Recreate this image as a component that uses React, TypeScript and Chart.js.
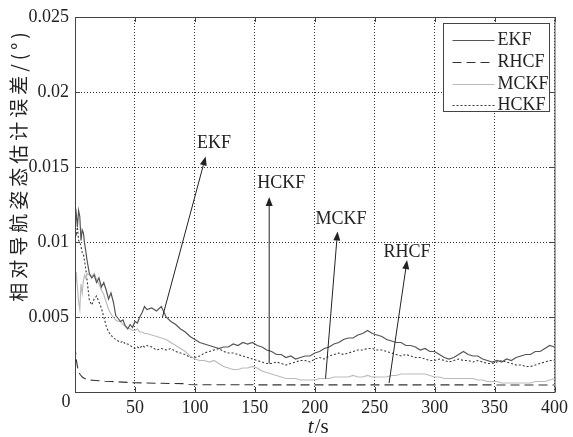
import React, { useEffect, useRef } from 'react';
import { Chart, registerables } from 'chart.js';
Chart.register(...registerables);

const SERIF = '"Liberation Serif", "Times New Roman", serif';

// time axis (s)
const timeS = [
  0, 1, 2, 3, 4, 5, 6, 7, 8, 9, 10,
  12, 14, 16, 18, 20, 22, 24, 26, 28, 30, 32, 34, 36, 38, 40, 42, 44, 46, 48, 50, 52, 54, 56, 58, 60,
  64, 68, 72, 76, 80, 84, 88, 92, 96, 100,
  104, 108, 112, 116, 120, 124, 128, 132, 136, 140,
  144, 148, 152, 156, 160, 164, 168, 172, 176, 180,
  184, 188, 192, 196, 200, 204, 208, 212, 216, 220,
  224, 228, 232, 236, 240, 244, 248, 252, 256, 260,
  264, 268, 272, 276, 280, 284, 288, 292, 296, 300,
  304, 308, 312, 316, 320, 324, 328, 332, 336, 340,
  344, 348, 352, 356, 360, 364, 368, 372, 376, 380,
  384, 388, 392, 396, 400,
];

const ekfValues = [
  0.0112, 0.0119, 0.0110, 0.0121, 0.0117, 0.0101, 0.0108, 0.0106, 0.0099, 0.0094, 0.0088,
  0.0079, 0.0076, 0.0078, 0.0073, 0.0076, 0.0070, 0.0073, 0.0068, 0.0062, 0.0066, 0.0060, 0.0051, 0.0049, 0.0047, 0.0048, 0.0044, 0.0042, 0.0045, 0.0043, 0.0047, 0.0046, 0.0050, 0.0053, 0.0057, 0.0055,
  0.0056, 0.0054, 0.0057, 0.0050, 0.0047, 0.0045, 0.0042, 0.0040, 0.0037, 0.0035,
  0.0033, 0.0032, 0.0031, 0.0030, 0.0029, 0.0030, 0.0030, 0.0032, 0.0031, 0.0033,
  0.0032, 0.0033, 0.0031, 0.0030, 0.0028, 0.0027, 0.0025, 0.0025, 0.0023, 0.0024,
  0.0022, 0.0023, 0.0024, 0.0024, 0.0026, 0.0027, 0.0029, 0.0030, 0.0032, 0.0033,
  0.0035, 0.0036, 0.0036, 0.0038, 0.0039, 0.0041, 0.0039, 0.0038, 0.0037, 0.0035,
  0.0034, 0.0033, 0.0033, 0.0031, 0.0031, 0.0030, 0.0028, 0.0029, 0.0027, 0.0027,
  0.0025, 0.0023, 0.0022, 0.0023, 0.0025, 0.0027, 0.0025, 0.0024, 0.0024, 0.0022,
  0.0021, 0.0020, 0.0021, 0.0020, 0.0022, 0.0021, 0.0023, 0.0024, 0.0025, 0.0025,
  0.0027, 0.0027, 0.0029, 0.0031, 0.0030,
];

const hckfValues = [
  0.0108, 0.0104, 0.0110, 0.0101, 0.0100, 0.0097, 0.0093, 0.0092, 0.0087, 0.0082, 0.0075,
  0.0061, 0.0058, 0.0062, 0.0064, 0.0060, 0.0056, 0.0050, 0.0044, 0.0040, 0.0038, 0.0036, 0.0035, 0.0034, 0.0033, 0.0034, 0.0032, 0.0032, 0.0031, 0.0030, 0.0029, 0.0030, 0.0029, 0.0031, 0.0030, 0.0031,
  0.0030, 0.0028, 0.0029, 0.0028, 0.0029, 0.0027, 0.0026, 0.0025, 0.0023, 0.0023,
  0.0024, 0.0026, 0.0027, 0.0028, 0.0029, 0.0027, 0.0026, 0.0026, 0.0025, 0.0024,
  0.0023, 0.0022, 0.0021, 0.0020, 0.0019, 0.0019, 0.0020, 0.0019, 0.0018, 0.0019,
  0.0020, 0.0021, 0.0021, 0.0020, 0.0022, 0.0023, 0.0022, 0.0024, 0.0025, 0.0026,
  0.0025, 0.0026, 0.0027, 0.0028, 0.0028, 0.0029, 0.0029, 0.0028, 0.0028, 0.0027,
  0.0026, 0.0025, 0.0024, 0.0025, 0.0024, 0.0023, 0.0023, 0.0022, 0.0021, 0.0021,
  0.0022, 0.0021, 0.0020, 0.0021, 0.0022, 0.0021, 0.0021, 0.0020, 0.0021, 0.0020,
  0.0019, 0.0019, 0.0020, 0.0021, 0.0020, 0.0019, 0.0018, 0.0018, 0.0017, 0.0017,
  0.0018, 0.0019, 0.0020, 0.0021, 0.0021,
];

const mckfValues = [
  0.0068, 0.0080, 0.0070, 0.0060, 0.0055, 0.0072, 0.0066, 0.0074, 0.0078, 0.0076, 0.0079,
  0.0078, 0.0077, 0.0079, 0.0075, 0.0072, 0.0068, 0.0065, 0.0060, 0.0055, 0.0052, 0.0050, 0.0048, 0.0047, 0.0047, 0.0045, 0.0044, 0.0043, 0.0042, 0.0041, 0.0041, 0.0042, 0.0040, 0.0040, 0.0039, 0.0039,
  0.0038, 0.0037, 0.0036, 0.0035, 0.0033, 0.0031, 0.0029, 0.0027, 0.0024, 0.0022,
  0.0021, 0.0021, 0.0020, 0.0021, 0.0019, 0.0017, 0.0016, 0.0015, 0.0015, 0.0016,
  0.0016, 0.0017, 0.0016, 0.0014, 0.0013, 0.0012, 0.0011, 0.0010, 0.0009, 0.0009,
  0.0009, 0.0008, 0.0008, 0.0008, 0.0008, 0.0009, 0.0009, 0.0009, 0.0010, 0.0010,
  0.0010, 0.0010, 0.0011, 0.0010, 0.0010, 0.0011, 0.0010, 0.0010, 0.0010, 0.0010,
  0.0011, 0.0011, 0.0012, 0.0012, 0.0012, 0.0012, 0.0012, 0.0012, 0.0011, 0.0010,
  0.0010, 0.0009, 0.0009, 0.0009, 0.0009, 0.0009, 0.0009, 0.0009, 0.0008, 0.0008,
  0.0007, 0.0007, 0.0007, 0.0006, 0.0006, 0.0006, 0.0006, 0.0006, 0.0006, 0.0006,
  0.0007, 0.0007, 0.0007, 0.0008, 0.0009,
];

const rhcfTime = [0, 1, 2, 3, 4, 5, 6, 8, 10, 12, 15, 20, 25, 30, 40, 50, 60, 70, 80, 90, 95, 100, 400];
const rhcfValues = [
  0.0031, 0.0022, 0.0017, 0.0014, 0.0012, 0.0011, 0.0010, 0.0009, 0.00085, 0.0008, 0.00078, 0.00075,
  0.00072, 0.0007, 0.00066, 0.00062, 0.0006, 0.00058, 0.00057, 0.00056, 0.0005, 0.00048, 0.00047,
];

const xTicks = [0, 50, 100, 150, 200, 250, 300, 350, 400];
const yTicks = [0, 0.005, 0.01, 0.015, 0.02, 0.025];

const seriesNames = ['EKF', 'RHCF', 'MCKF', 'HCKF'];
const seriesColors = ['#555555', '#333333', '#bbbbbb', '#3a3a3a'];
const seriesDashes = [[], [9, 5], [], [2, 2]];
const seriesWidths = [1.2, 1.1, 1.2, 1.1];

// annotations (data coordinates)
const annLabels = ['EKF', 'HCKF', 'MCKF', 'RHCF'];
const annTextT = [116, 172, 222, 277];
const annTextV = [0.0166, 0.0139, 0.0115, 0.0093];
const annTailT = [73, 162, 209, 262];
const annTailV = [0.005, 0.0019, 0.0009, 0.0006];
const annTipT = [109, 162, 219, 277];
const annTipV = [0.0157, 0.013, 0.0107, 0.0088];

const yTitle = '相对导航姿态估计误差/(°)';

export default function App() {
  const ref = useRef<HTMLCanvasElement>(null);
  useEffect(() => {
    const pts = (ts: number[], vs: number[]) => ts.map((t, i) => ({ x: t, y: vs[i] }));
    const seriesData = [
      pts(timeS, ekfValues),
      pts(rhcfTime, rhcfValues),
      pts(timeS, mckfValues),
      pts(timeS, hckfValues),
    ];

    const overlay = {
      id: 'overlay',
      afterDraw(chart: any) {
        const { ctx, chartArea: a, scales } = chart;
        const xs = scales.x;
        const ys = scales.y;
        ctx.save();
        ctx.setLineDash([]);
        ctx.strokeStyle = '#444';
        ctx.lineWidth = 1;
        // box
        ctx.strokeRect(Math.round(a.left) + 0.5, Math.round(a.top) + 0.5, a.right - a.left, a.bottom - a.top);
        // inward ticks
        ctx.beginPath();
        xTicks.forEach((t) => {
          const px = Math.round(xs.getPixelForValue(t)) + 0.5;
          ctx.moveTo(px, a.bottom);
          ctx.lineTo(px, a.bottom - 5);
          ctx.moveTo(px, a.top);
          ctx.lineTo(px, a.top + 5);
        });
        yTicks.forEach((v) => {
          const py = Math.round(ys.getPixelForValue(v)) + 0.5;
          ctx.moveTo(a.left, py);
          ctx.lineTo(a.left + 5, py);
          ctx.moveTo(a.right, py);
          ctx.lineTo(a.right - 5, py);
        });
        ctx.stroke();

        // origin label
        ctx.fillStyle = '#222';
        ctx.font = `18px ${SERIF}`;
        ctx.textAlign = 'center';
        ctx.textBaseline = 'middle';
        ctx.fillText('0', a.left - 9, a.bottom + 10);

        // legend
        const bx = Math.round(a.right - 112) + 0.5;
        const by = Math.round(a.top + 6) + 0.5;
        ctx.fillStyle = '#fff';
        ctx.fillRect(bx, by, 106, 88);
        ctx.strokeStyle = '#444';
        ctx.strokeRect(bx, by, 106, 88);
        const rowY = [16, 38, 60, 81];
        ctx.font = `18px ${SERIF}`;
        ctx.textAlign = 'left';
        ctx.textBaseline = 'middle';
        seriesNames.forEach((n, i) => {
          const yy = by + rowY[i];
          ctx.strokeStyle = seriesColors[i];
          ctx.lineWidth = seriesWidths[i];
          ctx.setLineDash(seriesDashes[i]);
          ctx.beginPath();
          ctx.moveTo(bx + 9, Math.round(yy) + 0.5);
          ctx.lineTo(bx + 51, Math.round(yy) + 0.5);
          ctx.stroke();
          ctx.setLineDash([]);
          ctx.fillStyle = '#222';
          ctx.fillText(n, bx + 54, yy + 1);
        });

        // annotations with arrows
        ctx.strokeStyle = '#222';
        ctx.fillStyle = '#222';
        ctx.lineWidth = 1;
        annLabels.forEach((lab, i) => {
          const tx = xs.getPixelForValue(annTextT[i]);
          const ty = ys.getPixelForValue(annTextV[i]);
          ctx.font = `18px ${SERIF}`;
          ctx.textAlign = 'center';
          ctx.textBaseline = 'middle';
          ctx.fillText(lab, tx, ty);
          const x0 = xs.getPixelForValue(annTailT[i]);
          const y0 = ys.getPixelForValue(annTailV[i]);
          const x1 = xs.getPixelForValue(annTipT[i]);
          const y1 = ys.getPixelForValue(annTipV[i]);
          const ang = Math.atan2(y1 - y0, x1 - x0);
          const hl = 9;
          const hw = 3.5;
          const bxh = x1 - hl * Math.cos(ang);
          const byh = y1 - hl * Math.sin(ang);
          ctx.beginPath();
          ctx.moveTo(x0, y0);
          ctx.lineTo(bxh, byh);
          ctx.stroke();
          ctx.beginPath();
          ctx.moveTo(x1, y1);
          ctx.lineTo(bxh + hw * Math.sin(ang), byh - hw * Math.cos(ang));
          ctx.lineTo(bxh - hw * Math.sin(ang), byh + hw * Math.cos(ang));
          ctx.closePath();
          ctx.fill();
        });

        // x title: t/s
        ctx.fillStyle = '#222';
        ctx.textBaseline = 'alphabetic';
        ctx.textAlign = 'left';
        const cx = (a.left + a.right) / 2 + 3;
        ctx.font = `italic 21px ${SERIF}`;
        const wT = ctx.measureText('t').width;
        ctx.font = `21px ${SERIF}`;
        const wS = ctx.measureText('/s').width;
        const sx = cx - (wT + wS) / 2;
        ctx.font = `italic 21px ${SERIF}`;
        ctx.fillText('t', sx, a.bottom + 41);
        ctx.font = `21px ${SERIF}`;
        ctx.fillText('/s', sx + wT + 1, a.bottom + 41);

        // y title
        ctx.save();
        ctx.translate(19, a.top + 148);
        ctx.rotate(-Math.PI / 2);
        ctx.font = `19px "Noto Sans CJK SC", sans-serif`;
        (ctx as any).letterSpacing = '4px';
        ctx.textAlign = 'center';
        ctx.textBaseline = 'middle';
        ctx.fillText(yTitle, 0, 0);
        ctx.restore();

        ctx.restore();
      },
    };

    const chart = new Chart(ref.current as HTMLCanvasElement, {
      type: 'line',
      data: {
        datasets: seriesNames.map((n, i) => ({
          label: n,
          data: seriesData[i],
          borderColor: seriesColors[i],
          borderDash: seriesDashes[i],
          borderWidth: seriesWidths[i],
          pointRadius: 0,
          tension: 0,
          fill: false,
        })),
      },
      options: {
        responsive: false,
        animation: false,
        layout: { padding: { left: 0, right: 15, top: 17, bottom: 0 } },
        plugins: { legend: { display: false }, tooltip: { enabled: false } },
        scales: {
          x: {
            type: 'linear',
            min: 0,
            max: 400,
            afterFit: (s: any) => { s.height = 45; },
            afterBuildTicks: (s: any) => { s.ticks = xTicks.map((v) => ({ value: v })); },
            ticks: {
              font: { family: SERIF, size: 18 },
              color: '#222',
              padding: 5,
              maxRotation: 0,
              autoSkip: false,
              callback: (v: any) => (v === 0 ? '' : String(v)),
            },
            grid: { color: '#333', lineWidth: 1, drawTicks: false },
            border: { display: false, dash: [1, 2] },
          },
          y: {
            type: 'linear',
            min: 0,
            max: 0.025,
            afterFit: (s: any) => { s.width = 75; },
            afterBuildTicks: (s: any) => { s.ticks = yTicks.map((v) => ({ value: v })); },
            ticks: {
              font: { family: SERIF, size: 18 },
              color: '#222',
              padding: 6,
              autoSkip: false,
              callback: (v: any) => (v === 0 ? '' : String(Number(Number(v).toFixed(3)))),
            },
            grid: { color: '#333', lineWidth: 1, drawTicks: false },
            border: { display: false, dash: [1, 2] },
          },
        },
      },
      plugins: [overlay],
    } as any);
    return () => chart.destroy();
  }, []);
  return (
    <canvas
      ref={ref}
      width={573}
      height={437}
      style={{ position: 'absolute', left: 0, top: 0, width: 573, height: 437 }}
    />
  );
}
